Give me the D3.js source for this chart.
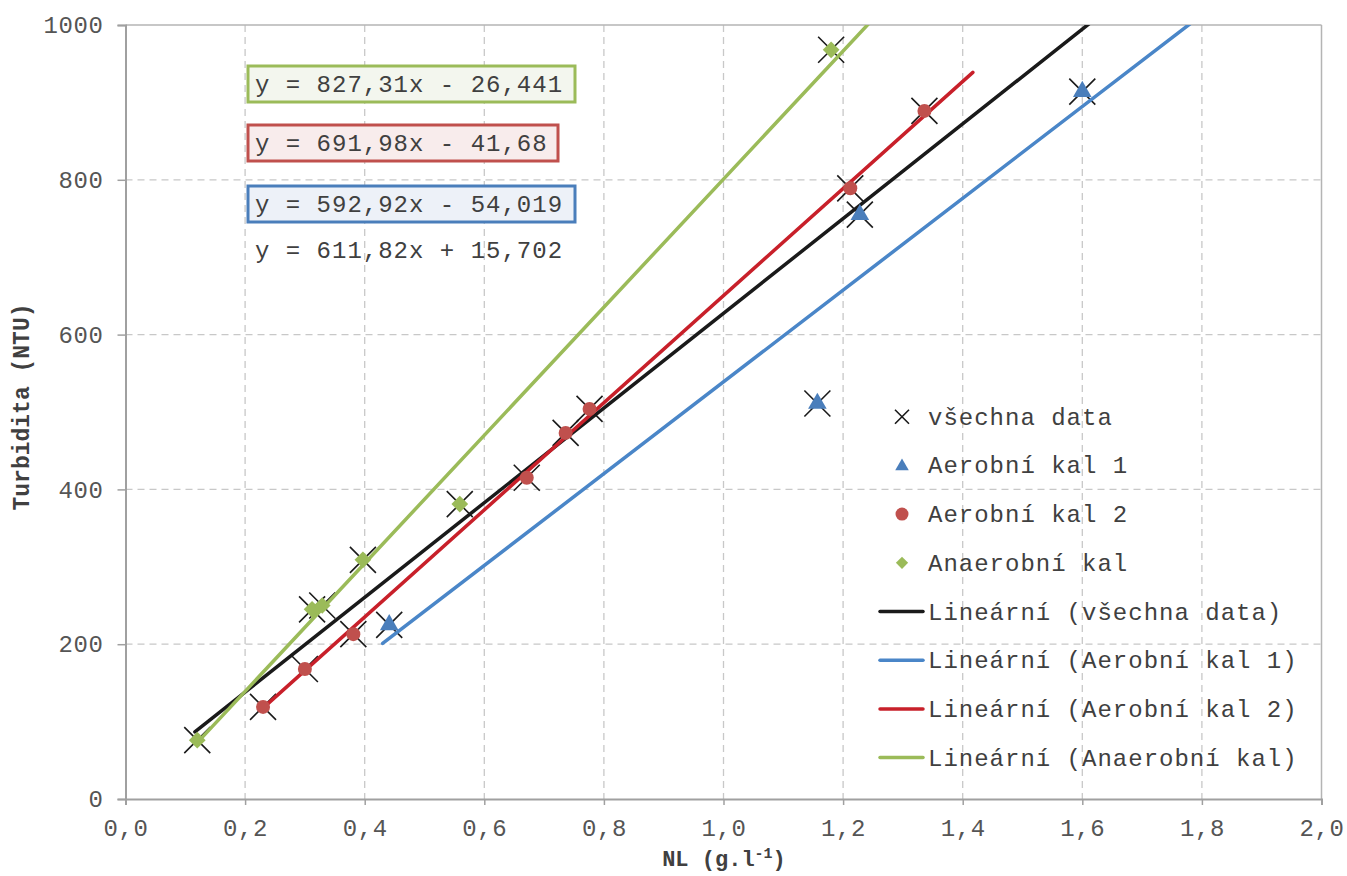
<!DOCTYPE html>
<html>
<head>
<meta charset="utf-8">
<script src="https://cdn.jsdelivr.net/npm/d3@7"></script>
<style>
  body { margin: 0; background: #fff; }
  text { font-family: "Liberation Mono", "Courier New", monospace; }
</style>
</head>
<body>
<div id="chart"></div>
<script>
// data
var allLabel = "všechna data";
var kal1X = [0.441, 1.157, 1.228, 1.600];
var kal1Y = [225, 511, 755, 914];
var kal2X = [0.230, 0.300, 0.381, 0.671, 0.736, 0.776, 1.212, 1.336];
var kal2Y = [119, 168, 213, 415, 473, 504, 789, 889];
var anaerX = [0.120, 0.312, 0.329, 0.397, 0.559, 1.180];
var anaerY = [76, 245, 250, 309, 381, 968];

var seriesNames = ["Aerobní kal 1", "Aerobní kal 2", "Anaerobní kal"];
var trendNames = ["Lineární (všechna data)", "Lineární (Aerobní kal 1)", "Lineární (Aerobní kal 2)", "Lineární (Anaerobní kal)"];
// slope, intercept, x from, x to
var trendSlope = [611.82, 592.92, 691.98, 827.31];
var trendIntercept = [15.702, -54.019, -41.68, -26.441];
var trendFrom = [0.116, 0.43, 0.228, 0.12];
var trendTo = [1.7, 1.85, 1.417, 1.3];
var equations = ["y = 827,31x - 26,441", "y = 691,98x - 41,68", "y = 592,92x - 54,019", "y = 611,82x + 15,702"];

var xTicks = [0, 0.2, 0.4, 0.6, 0.8, 1.0, 1.2, 1.4, 1.6, 1.8, 2.0];
var yTicks = [0, 200, 400, 600, 800, 1000];

(function () {
  var width = 1347, height = 876;
  var pLeft = 125.5, pRight = 1321.5, pTop = 25, pBottom = 799;

  var cBlue = "#4a7ebb", cBlueLine = "#4a86c8";
  var cRed = "#c0504d", cRedLine = "#c8202a";
  var cGreen = "#9bbb59", cBlack = "#1a1a1a";
  var trendColors = [cBlack, cBlueLine, cRedLine, cGreen];

  var svg = d3.select("#chart").append("svg")
    .attr("width", width)
    .attr("height", height);

  var x = d3.scaleLinear().domain([0, 2]).range([pLeft, pRight]);
  var y = d3.scaleLinear().domain([0, 1000]).range([pBottom, pTop]);

  svg.append("clipPath").attr("id", "plot")
    .append("rect").attr("x", pLeft).attr("y", pTop)
    .attr("width", pRight - pLeft).attr("height", pBottom - pTop);

  // gridlines
  svg.append("g").selectAll("line")
    .data(xTicks.slice(1, -1)).enter().append("line")
    .attr("x1", function (d) { return x(d); }).attr("x2", function (d) { return x(d); })
    .attr("y1", pTop).attr("y2", pBottom)
    .attr("stroke", "#c8c8c8").attr("stroke-width", 1.3).attr("stroke-dasharray", "7,5");
  svg.append("g").selectAll("line")
    .data(yTicks.slice(1, -1)).enter().append("line")
    .attr("x1", pLeft).attr("x2", pRight)
    .attr("y1", function (d) { return y(d); }).attr("y2", function (d) { return y(d); })
    .attr("stroke", "#c8c8c8").attr("stroke-width", 1.3).attr("stroke-dasharray", "7,5");

  // plot border top/right
  svg.append("line").attr("x1", pLeft).attr("x2", pRight).attr("y1", pTop).attr("y2", pTop)
    .attr("stroke", "#b4b4b4").attr("stroke-width", 1.5);
  svg.append("line").attr("x1", pRight).attr("x2", pRight).attr("y1", pTop).attr("y2", pBottom)
    .attr("stroke", "#b4b4b4").attr("stroke-width", 1.5);

  // axes
  var xAxis = svg.append("g").attr("transform", "translate(0," + pBottom + ")")
    .call(d3.axisBottom(x).tickValues(xTicks).tickSize(6).tickPadding(14)
      .tickFormat(function (d) { return d3.format(".1f")(d).replace(".", ","); }));
  var yAxis = svg.append("g").attr("transform", "translate(" + pLeft + ",0)")
    .call(d3.axisLeft(y).tickValues(yTicks).tickSize(8).tickPadding(14)
      .tickFormat(d3.format("d")));
  [xAxis, yAxis].forEach(function (a) {
    a.select(".domain").attr("stroke", "#a0a0a0").attr("stroke-width", 2);
    a.selectAll(".tick line").attr("stroke", "#a0a0a0").attr("stroke-width", 1.5);
    a.selectAll(".tick text").attr("font-family", "Liberation Mono, monospace")
      .attr("font-size", 24).attr("fill", "#555").attr("letter-spacing", 0.6);
  });

  // all-data X markers
  var allX = kal1X.concat(kal2X, anaerX);
  var allY = kal1Y.concat(kal2Y, anaerY);
  svg.append("g").selectAll("path")
    .data(allX).enter().append("path")
    .attr("transform", function (d, i) { return "translate(" + x(d) + "," + y(allY[i]) + ")"; })
    .attr("d", "M-13,-13L13,13M-13,13L13,-13")
    .attr("stroke", "#1a1a1a").attr("stroke-width", 1.6).attr("fill", "none");

  // trend lines
  var trendG = svg.append("g").attr("clip-path", "url(#plot)");
  trendSlope.forEach(function (s, i) {
    var b = trendIntercept[i];
    trendG.append("line")
      .attr("x1", x(trendFrom[i])).attr("y1", y(s * trendFrom[i] + b))
      .attr("x2", x(trendTo[i])).attr("y2", y(s * trendTo[i] + b))
      .attr("stroke", trendColors[i]).attr("stroke-width", 3.5).attr("stroke-linecap", "round");
  });

  // series markers
  var tri = d3.symbol().type(d3.symbolTriangle).size(150);
  var dia = d3.symbol().type(d3.symbolSquare).size(140);
  svg.append("g").selectAll("path")
    .data(kal1X).enter().append("path")
    .attr("transform", function (d, i) { return "translate(" + x(d) + "," + y(kal1Y[i]) + ")"; })
    .attr("d", tri).attr("fill", cBlue);
  svg.append("g").selectAll("circle")
    .data(kal2X).enter().append("circle")
    .attr("cx", function (d) { return x(d); })
    .attr("cy", function (d, i) { return y(kal2Y[i]); })
    .attr("r", 7).attr("fill", cRed);
  svg.append("g").selectAll("path")
    .data(anaerX).enter().append("path")
    .attr("transform", function (d, i) { return "translate(" + x(d) + "," + y(anaerY[i]) + ") rotate(45)"; })
    .attr("d", dia).attr("fill", cGreen);

  // equation boxes
  var eqBox = [
    { stroke: cGreen, fill: "#f3f6ee", y: 66, w: 327 },
    { stroke: cRed, fill: "#f8ecec", y: 125, w: 310 },
    { stroke: cBlue, fill: "#edf1f8", y: 186, w: 327 },
    { stroke: null, fill: null, y: 232, w: 0 }
  ];
  equations.forEach(function (eq, i) {
    var bx = eqBox[i];
    if (bx.stroke) {
      svg.append("rect").attr("x", 248).attr("y", bx.y).attr("width", bx.w).attr("height", 36)
        .attr("fill", bx.fill).attr("stroke", bx.stroke).attr("stroke-width", 3);
    }
    svg.append("text").attr("x", 255).attr("y", bx.y + 26)
      .attr("font-size", 24).attr("letter-spacing", 1).attr("fill", "#404040")
      .text(eq);
  });

  // legend
  var legY0 = 416.7, legStep = 48.7, legTextX = 928;
  var lg = svg.append("g");
  var rows = [allLabel].concat(seriesNames, trendNames);
  rows.forEach(function (name, i) {
    var cy = legY0 + i * legStep;
    if (i === 0) {
      lg.append("path").attr("transform", "translate(902," + cy + ")")
        .attr("d", "M-7,-7L7,7M-7,7L7,-7").attr("stroke", "#1a1a1a").attr("stroke-width", 1.6);
    } else if (i === 1) {
      lg.append("path").attr("transform", "translate(902," + (cy + 1) + ")")
        .attr("d", d3.symbol().type(d3.symbolTriangle).size(80)).attr("fill", cBlue);
    } else if (i === 2) {
      lg.append("circle").attr("cx", 902).attr("cy", cy).attr("r", 6.5).attr("fill", cRed);
    } else if (i === 3) {
      lg.append("path").attr("transform", "translate(902," + cy + ") rotate(45)")
        .attr("d", d3.symbol().type(d3.symbolSquare).size(75)).attr("fill", cGreen);
    } else {
      lg.append("line").attr("x1", 880).attr("x2", 923).attr("y1", cy).attr("y2", cy)
        .attr("stroke", trendColors[i - 4]).attr("stroke-width", 3.5).attr("stroke-linecap", "round");
    }
    lg.append("text").attr("x", legTextX).attr("y", cy + 8)
      .attr("font-size", 24).attr("letter-spacing", 1).attr("fill", "#404040")
      .text(name);
  });

  // axis titles
  svg.append("text")
    .attr("transform", "translate(29,407) rotate(-90)")
    .attr("text-anchor", "middle").attr("font-size", 23).attr("font-weight", "bold")
    .attr("fill", "#404040")
    .text("Turbidita (NTU)");
  var xt = svg.append("text").attr("x", 724).attr("y", 866)
    .attr("text-anchor", "middle").attr("font-size", 22).attr("font-weight", "bold")
    .attr("fill", "#404040");
  xt.append("tspan").text("NL (g.l");
  xt.append("tspan").attr("dy", -8).attr("font-size", 15).text("-1");
  xt.append("tspan").attr("dy", 8).text(")");
})();
</script>
</body>
</html>
